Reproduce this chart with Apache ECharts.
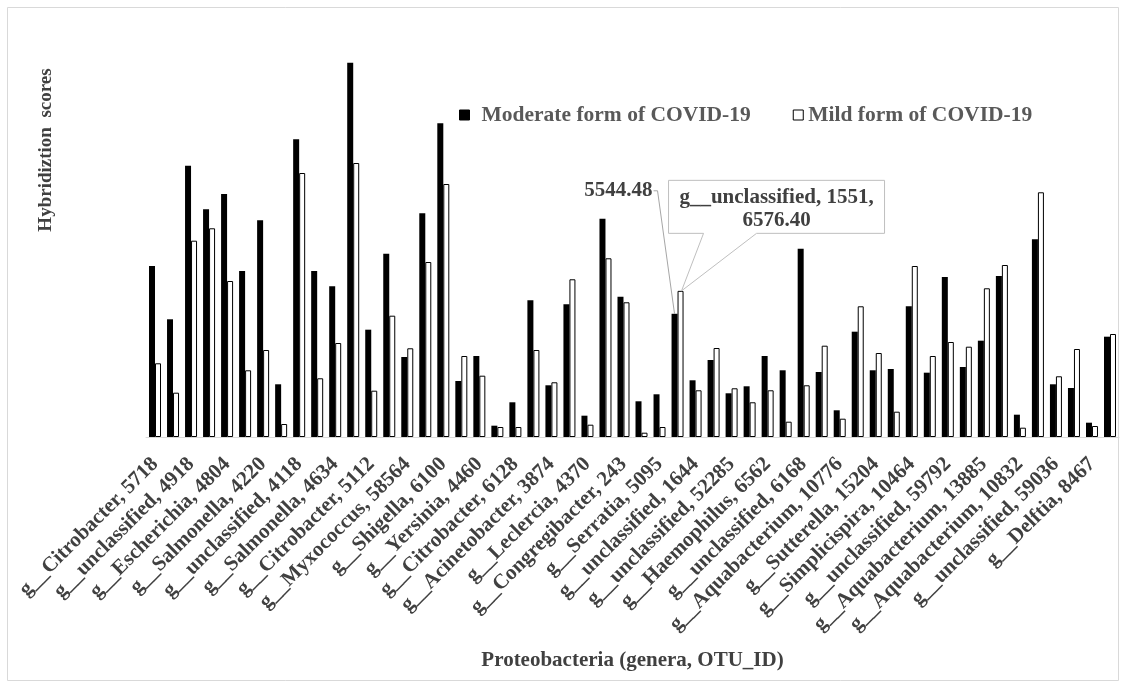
<!DOCTYPE html>
<html>
<head>
<meta charset="utf-8">
<script src="https://cdn.jsdelivr.net/npm/echarts@6/dist/echarts.min.js"></script>
<style>
  html, body { margin: 0; padding: 0; background: #fff; }
  #chart { width: 1126px; height: 688px; }
</style>
</head>
<body>
<div id="chart"></div>
<script>
// Genera (with OTU id); only every other one carries a printed tick label.
const categories = [
  'g__Citrobacter, 5718', '',
  'g__unclassified, 4918', '',
  'g__Escherichia, 4804', '',
  'g__Salmonella, 4220', '',
  'g__unclassified, 4118', '',
  'g__Salmonella, 4634', '',
  'g__Citrobacter, 5112', '',
  'g__Myxococcus, 58564', '',
  'g__Shigella, 6100', '',
  'g__Yersinia, 4460', '',
  'g__Citrobacter, 6128', '',
  'g__Acinetobacter, 3874', '',
  'g__Leclercia, 4370', '',
  'g__Congregibacter, 243', '',
  'g__Serratia, 5095', 'g__unclassified, 1551',
  'g__unclassified, 1644', '',
  'g__unclassified, 52285', '',
  'g__Haemophilus, 6562', '',
  'g__unclassified, 6168', '',
  'g__Aquabacterium, 10776', '',
  'g__Sutterella, 15204', '',
  'g__Simplicispira, 10464', '',
  'g__unclassified, 59792', '',
  'g__Aquabacterium, 13885', '',
  'g__Aquabacterium, 10832', '',
  'g__unclassified, 59036', '',
  'g__Delftia, 8467', ''
];

// Hybridization scores, moderate form of COVID-19
const moderate = [
  7695, 5297, 12209, 10247, 10935, 7470, 9752, 2372, 13397, 7470,
  6782, 16844, 4829, 8249, 3600, 10067, 14117, 2520, 3645, 509,
  1562, 6152, 2327, 5972, 959, 9824, 6314, 1607, 1922, 5544.48,
  2552, 3465, 1967, 2282, 3645, 3002, 8474, 2925, 1202, 4739,
  3002, 3060, 5882, 2894, 7200, 3150, 4334, 7245, 1004, 8897,
  2372, 2205, 644, 4514
];

// Hybridization scores, mild form of COVID-19
const mild = [
  3317, 1994, 8834, 9392, 7020, 3002, 3915, 585, 11880, 2642,
  4230, 12330, 2084, 5459, 3992, 7875, 11385, 3645, 2759, 450,
  450, 3915, 2462, 7097, 554, 8042, 6062, 194, 450, 6576.40,
  2102, 4005, 2192, 1562, 2102, 689, 2327, 4109, 824, 5882,
  3780, 1139, 7695, 3645, 4275, 4064, 6692, 7740, 419, 11012,
  2732, 3960, 495, 4635
];

const seriesNames = ['Moderate form of COVID-19', 'Mild form of COVID-19'];
const xTitle = 'Proteobacteria (genera, OTU_ID)';
const yTitle = 'Hybridiztion  scores';
const calloutIndex = 29;

const SERIF = '"Liberation Serif", "Times New Roman", serif';
const TEXT = '#404040';
const BAR_W = 6;

const chart = echarts.init(document.getElementById('chart'), null, { renderer: 'canvas' });

chart.setOption({
  animation: false,
  backgroundColor: '#ffffff',
  grid: { left: 146, right: 7, top: 37, bottom: 251, containLabel: false, outerBoundsMode: 'none' },
  legend: {
    left: 459,
    top: 104,
    padding: 0,
    icon: 'rect',
    itemWidth: 10,
    itemHeight: 10,
    itemGap: 42,
    itemStyle: { borderColor: '#000', borderWidth: 1 },
    textStyle: { fontFamily: SERIF, fontWeight: 'bold', fontSize: 21.5, color: '#595959' },
    data: [
      { name: seriesNames[0], textStyle: { padding: [0, 0, 0, 7] } },
      { name: seriesNames[1] }
    ]
  },
  xAxis: {
    type: 'category',
    data: categories,
    name: xTitle,
    nameLocation: 'middle',
    nameGap: 213,
    nameTextStyle: { fontFamily: SERIF, fontWeight: 'bold', fontSize: 21, color: TEXT },
    axisTick: { show: false },
    axisLine: { lineStyle: { color: '#d9d9d9', width: 1 } },
    axisLabel: {
      interval: 1,
      rotate: 45,
      margin: 24,
      fontFamily: SERIF,
      fontWeight: 'bold',
      fontSize: 21,
      color: TEXT
    },
    splitLine: { show: false }
  },
  yAxis: { type: 'value', min: 0, max: 18000, show: false },
  series: [
    {
      name: seriesNames[0],
      type: 'bar',
      data: moderate,
      barWidth: BAR_W,
      barGap: '0%',
      itemStyle: { color: '#000000' }
    },
    {
      name: seriesNames[1],
      type: 'bar',
      data: mild,
      barWidth: BAR_W,
      barGap: '0%',
      itemStyle: { color: '#ffffff', borderColor: '#000000', borderWidth: 1 }
    }
  ]
});

// Callouts for the highlighted genus, anchored to its two bar tops.
const toPx = (i, v) => chart.convertToPixel({ gridIndex: 0 }, [i, v]);
const [cx, yB] = toPx(calloutIndex, moderate[calloutIndex]);
const yW = toPx(calloutIndex, mild[calloutIndex])[1];
const bx = cx - BAR_W / 2;
const wx = cx + BAR_W / 2;

const boxL = cx - 9, boxT = yW - 110.5, boxW = 216, boxH = 53;
const boxR = boxL + boxW, boxB = boxT + boxH;

const font21 = 'bold 21px ' + SERIF;

chart.setOption({
  graphic: [
    {
      type: 'rect', silent: true, z: -10,
      shape: { x: 7.5, y: 7.5, width: 1111, height: 673 },
      style: { fill: 'none', stroke: '#d9d9d9', lineWidth: 1 }
    },
    {
      type: 'text', silent: true, z: 100,
      x: 46, y: 150, rotation: Math.PI / 2,
      style: {
        text: yTitle, font: 'bold 19px ' + SERIF, fill: TEXT,
        align: 'center', verticalAlign: 'middle',
        textAlign: 'center', textVerticalAlign: 'middle'
      }
    },
    {
      type: 'polyline', silent: true, z: 100,
      shape: { points: [[cx - 24, yB - 123], [cx - 20, yB - 123], [bx, yB]] },
      style: { stroke: '#a6a6a6', lineWidth: 1, fill: null }
    },
    {
      type: 'text', silent: true, z: 101,
      x: cx - 25, y: yB - 123,
      style: {
        text: moderate[calloutIndex].toFixed(2), font: font21, fill: TEXT,
        align: 'right', verticalAlign: 'middle',
        textAlign: 'right', textVerticalAlign: 'middle'
      }
    },
    {
      type: 'polygon', silent: true, z: 100,
      shape: {
        points: [
          [boxL, boxT], [boxR, boxT], [boxR, boxB],
          [cx + 79, boxB], [wx + 1, yW], [cx + 26, boxB], [boxL, boxB]
        ]
      },
      style: { fill: '#ffffff', stroke: '#bfbfbf', lineWidth: 1 }
    },
    {
      type: 'text', silent: true, z: 101,
      x: boxL + boxW / 2, y: boxT + 17,
      style: {
        text: categories[calloutIndex] + ',', font: font21, fill: TEXT,
        align: 'center', verticalAlign: 'middle',
        textAlign: 'center', textVerticalAlign: 'middle'
      }
    },
    {
      type: 'text', silent: true, z: 101,
      x: boxL + boxW / 2, y: boxT + 40,
      style: {
        text: mild[calloutIndex].toFixed(2), font: font21, fill: TEXT,
        align: 'center', verticalAlign: 'middle',
        textAlign: 'center', textVerticalAlign: 'middle'
      }
    }
  ]
});
</script>
</body>
</html>
